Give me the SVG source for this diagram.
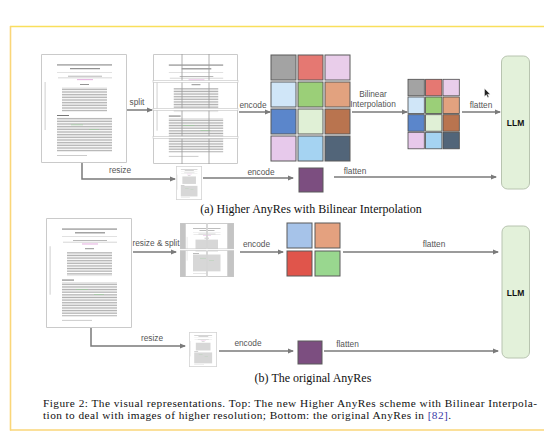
<svg xmlns="http://www.w3.org/2000/svg" xmlns:xlink="http://www.w3.org/1999/xlink" width="544" height="431" viewBox="0 0 544 431">
<style>
.lbl{font-family:"Liberation Sans",Arial,sans-serif;font-size:8.3px;fill:#555;text-anchor:middle}
.llm{font-family:"Liberation Sans",Arial,sans-serif;font-size:8.5px;font-weight:bold;fill:#111;text-anchor:middle}
.cap{font-family:"Liberation Serif","Times New Roman",serif;font-size:12px;fill:#111}
.fig{font-family:"Liberation Serif","Times New Roman",serif;font-size:11.3px;fill:#111}
.conn{fill:none;stroke:#7a7a7a;stroke-width:1.5;marker-end:url(#ah)}
.cell{stroke:#5a5a5a;stroke-width:1}
.scell{stroke:#4a4a4a;stroke-width:0.8}
.llmbox{fill:#e3f1da;stroke:#b8c4b0;stroke-width:1}
</style>
<defs>
<marker id="ah" markerWidth="6" markerHeight="6" refX="5" refY="3" orient="auto" markerUnits="userSpaceOnUse">
<path d="M0,0.5 L6,3 L0,5.5 Z" fill="#7a7a7a"/>
</marker>
<pattern id="txt" patternUnits="userSpaceOnUse" width="10" height="1.6">
<rect x="0" y="0" width="10" height="0.55" fill="#8a8a8a"/>
</pattern>
<symbol id="page" viewBox="0 0 86 109" preserveAspectRatio="none">
<rect x="0.5" y="0.5" width="85" height="108" fill="#fff" stroke="#cacaca" stroke-width="1" vector-effect="non-scaling-stroke"/>
<rect x="16" y="10.6" width="55" height="0.7" fill="#444"/>
<rect x="29" y="14.2" width="30" height="1" fill="#777"/>
<rect x="16" y="18.3" width="55" height="0.35" fill="#aaa"/>
<rect x="27" y="21.8" width="34" height="0.7" fill="#999"/>
<rect x="17" y="23.6" width="54" height="0.6" fill="#bbb"/>
<rect x="36" y="25.4" width="16" height="0.7" fill="#d88ad0"/>
<rect x="39" y="30" width="9" height="0.9" fill="#888"/>
<rect x="21" y="33.5" width="45" height="24" fill="url(#txt)"/>
<rect x="16" y="61" width="12" height="1" fill="#777"/>
<rect x="16" y="63.6" width="55" height="34" fill="url(#txt)"/>
<rect x="30" y="70.6" width="12" height="0.6" fill="#9c9"/>
<rect x="48" y="75.4" width="10" height="0.6" fill="#9c9"/>
<rect x="16" y="101" width="30" height="0.6" fill="#aaa"/>
<rect x="3.6" y="28" width="1" height="48" fill="#cfcfcf"/>
</symbol>
<clipPath id="q1"><rect x="180" y="223" width="26.5" height="26"/></clipPath>
<clipPath id="q2"><rect x="207.5" y="223" width="26.5" height="26"/></clipPath>
<clipPath id="q3"><rect x="180" y="250.5" width="26.5" height="26.5"/></clipPath>
<clipPath id="q4"><rect x="207.5" y="250.5" width="26.5" height="26.5"/></clipPath>
</defs>

<rect x="0" y="0" width="544" height="431" fill="#fff"/>
<g id="frame">
<line x1="10" y1="26.5" x2="544" y2="26.5" stroke="#f9df5c" stroke-width="1.6"/>
<line x1="10.5" y1="26" x2="10.5" y2="430.5" stroke="#fad679" stroke-width="1.6"/>
<line x1="10" y1="430" x2="544" y2="430" stroke="#fad679" stroke-width="1.4"/>
</g>

<g id="connectors">
<line class="conn" x1="127" y1="110" x2="152" y2="110"/>
<line class="conn" x1="239" y1="112" x2="270" y2="112"/>
<polyline class="conn" points="82,163 82,179 175,179"/>
<line class="conn" x1="203" y1="178" x2="293" y2="178"/>
<line class="conn" x1="352" y1="112" x2="407" y2="112"/>
<line class="conn" x1="462" y1="112" x2="500" y2="112"/>
<line class="conn" x1="334" y1="177" x2="496" y2="177"/>
<line class="conn" x1="133" y1="252" x2="176" y2="252"/>
<line class="conn" x1="240" y1="252" x2="283" y2="252"/>
<line class="conn" x1="343" y1="252" x2="498" y2="252"/>
<polyline class="conn" points="91,328 91,346 185,346"/>
<line class="conn" x1="219" y1="351" x2="293" y2="351"/>
<line class="conn" x1="324" y1="351" x2="498" y2="351"/>
</g>

<g id="labels">
<text class="lbl" x="137" y="105">split</text>
<text class="lbl" x="253" y="107.5">encode</text>
<text class="lbl" x="120" y="173">resize</text>
<text class="lbl" x="261" y="175">encode</text>
<text class="lbl" x="373" y="97">Bilinear</text>
<text class="lbl" x="373" y="107">Interpolation</text>
<text class="lbl" x="481" y="108">flatten</text>
<text class="lbl" x="355" y="173.5">flatten</text>
<text class="lbl" x="156" y="246">resize &amp; split</text>
<text class="lbl" x="256.5" y="247">encode</text>
<text class="lbl" x="434" y="247">flatten</text>
<text class="lbl" x="152" y="341">resize</text>
<text class="lbl" x="248" y="346">encode</text>
<text class="lbl" x="347.5" y="347">flatten</text>
</g>

<g id="doc-original-a">
<use xlink:href="#page" href="#page" x="41" y="54" width="86" height="109"/>
</g>

<g id="doc-split-a">
<use xlink:href="#page" href="#page" x="153" y="54" width="85" height="110"/>
<line x1="182" y1="54" x2="182" y2="164" stroke="#9a9a9a" stroke-width="0.8"/>
<line x1="209" y1="54" x2="209" y2="164" stroke="#9a9a9a" stroke-width="0.8"/>
<rect x="153" y="80.5" width="85" height="1.8" fill="#fff" stroke="#c4c4c4" stroke-width="0.6"/>
<rect x="153" y="108.5" width="85" height="1.8" fill="#fff" stroke="#c4c4c4" stroke-width="0.6"/>
<rect x="153" y="136.5" width="85" height="1.8" fill="#fff" stroke="#c4c4c4" stroke-width="0.6"/>
</g>

<g id="doc-resized-a">
<use xlink:href="#page" href="#page" x="176" y="166" width="26" height="34"/>
</g>

<g id="grid-a">
<rect class="cell" x="271" y="55" width="25" height="25" fill="#a3a3a3"/>
<rect class="cell" x="298" y="55" width="25" height="25" fill="#e57872"/>
<rect class="cell" x="325" y="55" width="25" height="25" fill="#e9cdea"/>
<rect class="cell" x="271" y="82" width="25" height="25" fill="#d0e6f8"/>
<rect class="cell" x="298" y="82" width="25" height="25" fill="#9bcf78"/>
<rect class="cell" x="325" y="82" width="25" height="25" fill="#e2a27f"/>
<rect class="cell" x="271" y="109" width="25" height="25" fill="#5b86cb"/>
<rect class="cell" x="298" y="109" width="25" height="25" fill="#e0f0d6"/>
<rect class="cell" x="325" y="109" width="25" height="25" fill="#b9744f"/>
<rect class="cell" x="271" y="136" width="25" height="25" fill="#e7c9eb"/>
<rect class="cell" x="298" y="136" width="25" height="25" fill="#a5d3f2"/>
<rect class="cell" x="325" y="136" width="25" height="25" fill="#526579"/>
</g>

<g id="grid-interp">
<rect class="scell" x="408" y="79.3" width="16.3" height="16.5" fill="#a3a3a3"/>
<rect class="scell" x="425.6" y="79.3" width="16.3" height="16.5" fill="#e57872"/>
<rect class="scell" x="443" y="79.3" width="16.3" height="16.5" fill="#e9cdea"/>
<rect class="scell" x="408" y="97" width="16.3" height="16.5" fill="#d0e6f8"/>
<rect class="scell" x="425.6" y="97" width="16.3" height="16.5" fill="#9bcf78"/>
<rect class="scell" x="443" y="97" width="16.3" height="16.5" fill="#e2a27f"/>
<rect class="scell" x="408" y="114.7" width="16.3" height="16.5" fill="#5b86cb"/>
<rect class="scell" x="425.6" y="114.7" width="16.3" height="16.5" fill="#e0f0d6"/>
<rect class="scell" x="443" y="114.7" width="16.3" height="16.5" fill="#b9744f"/>
<rect class="scell" x="408" y="132.3" width="16.3" height="16.5" fill="#e7c9eb"/>
<rect class="scell" x="425.6" y="132.3" width="16.3" height="16.5" fill="#a5d3f2"/>
<rect class="scell" x="443" y="132.3" width="16.3" height="16.5" fill="#526579"/>
</g>

<g id="token-a">
<rect class="cell" x="299" y="168" width="24" height="24" fill="#7c4e80"/>
</g>

<g id="llm-a">
<rect class="llmbox" x="501.5" y="56" width="28" height="133" rx="6" ry="6"/>
<text class="llm" x="515.5" y="126">LLM</text>
</g>

<g id="cursor">
<path d="M484.5,88.5 L484.5,96.5 L486.4,94.7 L487.7,97.6 L488.9,97.1 L487.6,94.2 L490.2,94.2 Z" fill="#222" stroke="#fff" stroke-width="0.4"/>
</g>

<text class="cap" x="311" y="213" text-anchor="middle">(a) Higher AnyRes with Bilinear Interpolation</text>

<g id="doc-original-b">
<use xlink:href="#page" href="#page" x="46" y="218" width="86" height="110"/>
</g>

<g id="doc-split-b">
<rect x="180" y="223" width="54" height="54" fill="#c4c4c4"/>
<g clip-path="url(#q1)"><use xlink:href="#page" href="#page" x="185" y="223" width="43" height="54"/></g>
<g clip-path="url(#q2)"><use xlink:href="#page" href="#page" x="185" y="223" width="43" height="54"/></g>
<g clip-path="url(#q3)"><use xlink:href="#page" href="#page" x="185" y="223" width="43" height="54"/></g>
<g clip-path="url(#q4)"><use xlink:href="#page" href="#page" x="185" y="223" width="43" height="54"/></g>
<rect x="206.5" y="222.5" width="1" height="55" fill="#fff"/>
<rect x="179.5" y="249" width="55" height="1.5" fill="#fff"/>
<rect x="180.3" y="223.3" width="26" height="25.5" fill="none" stroke="#c8c8c8" stroke-width="0.6"/>
<rect x="207.7" y="223.3" width="26" height="25.5" fill="none" stroke="#c8c8c8" stroke-width="0.6"/>
<rect x="180.3" y="250.7" width="26" height="26" fill="none" stroke="#c8c8c8" stroke-width="0.6"/>
<rect x="207.7" y="250.7" width="26" height="26" fill="none" stroke="#c8c8c8" stroke-width="0.6"/>
</g>

<g id="grid-b">
<rect class="cell" x="287" y="223" width="25" height="25" fill="#a6c3e9"/>
<rect class="cell" x="315" y="223" width="25" height="25" fill="#e4a17f"/>
<rect class="cell" x="287" y="251" width="25" height="25" fill="#e0554b"/>
<rect class="cell" x="315" y="251" width="25" height="25" fill="#99d78f"/>
</g>

<g id="doc-resized-b">
<use xlink:href="#page" href="#page" x="189" y="332" width="28" height="35"/>
</g>

<g id="token-b">
<rect class="cell" x="298" y="341" width="24" height="23" fill="#7c4e80"/>
</g>

<g id="llm-b">
<rect class="llmbox" x="502" y="226" width="27.5" height="132" rx="6" ry="6"/>
<text class="llm" x="515.5" y="296">LLM</text>
</g>

<text class="cap" x="313" y="382" text-anchor="middle">(b) The original AnyRes</text>

<g id="caption">
<text class="fig" x="43" y="406.5" textLength="494" lengthAdjust="spacing">Figure 2: The visual representations. Top: The new Higher AnyRes scheme with Bilinear Interpola-</text>
<text class="fig" x="43" y="419" textLength="408" lengthAdjust="spacing">tion to deal with images of higher resolution; Bottom: the original AnyRes in <tspan fill="#3a3aa8">[82]</tspan>.</text>
</g>
</svg>
